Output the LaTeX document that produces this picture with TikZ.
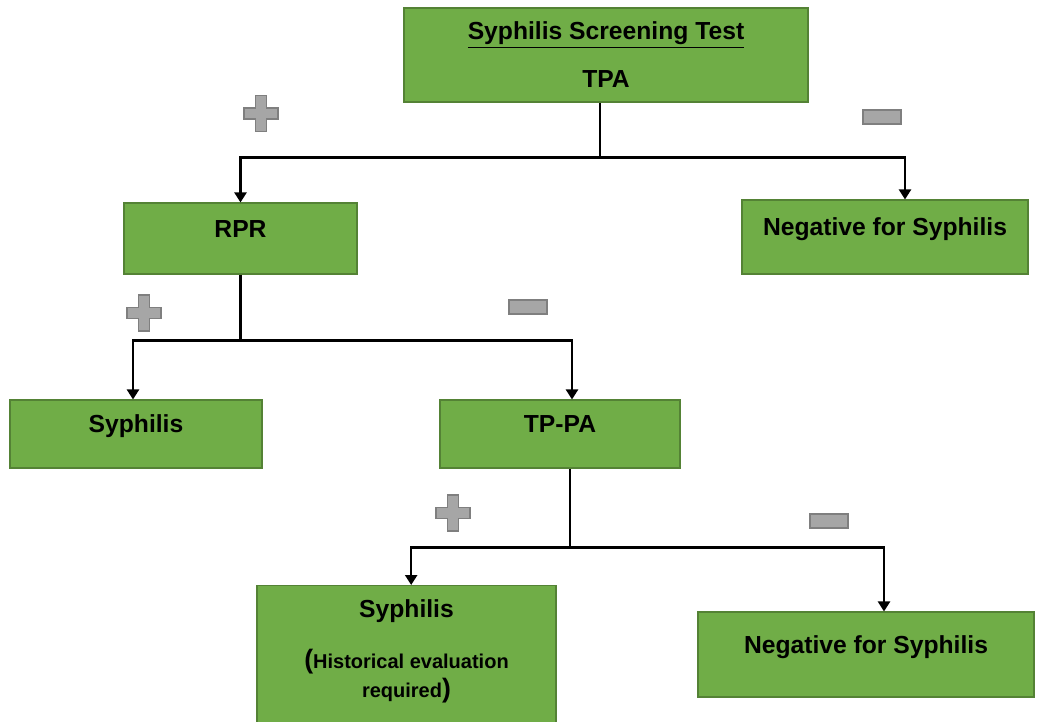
\documentclass[tikz,border=0pt]{standalone}
\usepackage{fontspec}
\setmainfont{Liberation Sans}
\usetikzlibrary{arrows.meta, positioning}

\definecolor{boxgreen}{HTML}{70AD47}
\definecolor{boxedge}{HTML}{548235}
\definecolor{signgray}{HTML}{A6A6A6}
\definecolor{signedge}{HTML}{7F7F7F}

\newcommand{\notefont}{\fontsize{15}{24}\selectfont}
\newcommand{\parenfont}{\fontsize{20}{24}\selectfont}

\begin{document}
\begin{tikzpicture}[
  x=0.75pt, y=-0.75pt,
  test/.style={rectangle, draw=boxedge, fill=boxgreen, line width=0.8pt, align=center,
    font=\fontsize{18.5}{22}\selectfont\bfseries},
  result/.style={test, text height=14pt, text depth=16pt},
  sign/.style={draw=signedge, fill=signgray, line width=1.2pt},
  link/.style={line width=1.7pt},
  arrow/.style={link, -{Triangle[length=7.5pt, width=9pt]}}
]
  \useasboundingbox (0,0) rectangle (1062,721);

  % boxes
  \node[test, minimum width=303pt, minimum height=70.5pt] (tpa) at (606,55)
    {\underline{Syphilis Screening Test}\\[14pt]TPA};
  \node[result, minimum width=174.75pt, minimum height=53.25pt] (rpr) at (240.5,238.5) {RPR};
  \node[result, minimum width=214.5pt, minimum height=55.5pt] (negtop) at (885,237) {Negative for Syphilis};
  \node[result, minimum width=189pt, minimum height=51pt] (syphleft) at (136,434) {Syphilis};
  \node[result, minimum width=180pt, minimum height=51pt] (tppa) at (560,434) {TP-PA};
  \node[test, anchor=north, minimum width=224.25pt, text depth=60pt, inner ysep=10.5pt]
    (syphbot) at (406.5,585)
    {Syphilis\\[16pt]{\parenfont(}\notefont Historical evaluation\\\notefont required{\parenfont)}};
  \node[result, minimum width=252pt, minimum height=63.75pt] (negbot) at (866,654.5) {Negative for Syphilis};

  % connectors
  \draw[link] ([xshift=-4.5pt]tpa.south) -- ++(0,55) coordinate (split1);
  \draw[arrow] (split1) -| (rpr.north);
  \draw[arrow] (split1) -| ([xshift=15pt]negtop.north);

  \draw[link] (rpr.south) -- ++(0,66) coordinate (split2);
  \draw[arrow] (split2) -| ([xshift=-2.25pt]syphleft.north);
  \draw[arrow] (split2) -| ([xshift=9pt]tppa.north);

  \draw[link] ([xshift=7.5pt]tppa.south) -- ++(0,79) coordinate (split3);
  \draw[arrow] (split3) -| ([xshift=3.5pt]syphbot.north);
  \draw[arrow] (split3) -| ([xshift=13.5pt]negbot.north);

  % plus and minus signs
  \foreach \cx/\cy in {261/113.5, 144/313, 453/513}
    \draw[sign] (\cx-5.5,\cy-18) -- (\cx+5.5,\cy-18) -- (\cx+5.5,\cy-5.5) -- (\cx+17,\cy-5.5)
      -- (\cx+17,\cy+5.5) -- (\cx+5.5,\cy+5.5) -- (\cx+5.5,\cy+18) -- (\cx-5.5,\cy+18)
      -- (\cx-5.5,\cy+5.5) -- (\cx-17,\cy+5.5) -- (\cx-17,\cy-5.5) -- (\cx-5.5,\cy-5.5) -- cycle;
  \foreach \cx/\cy in {882/117, 528/307, 829/521}
    \draw[sign] (\cx-19,\cy-7) rectangle (\cx+19,\cy+7);
\end{tikzpicture}
\end{document}
